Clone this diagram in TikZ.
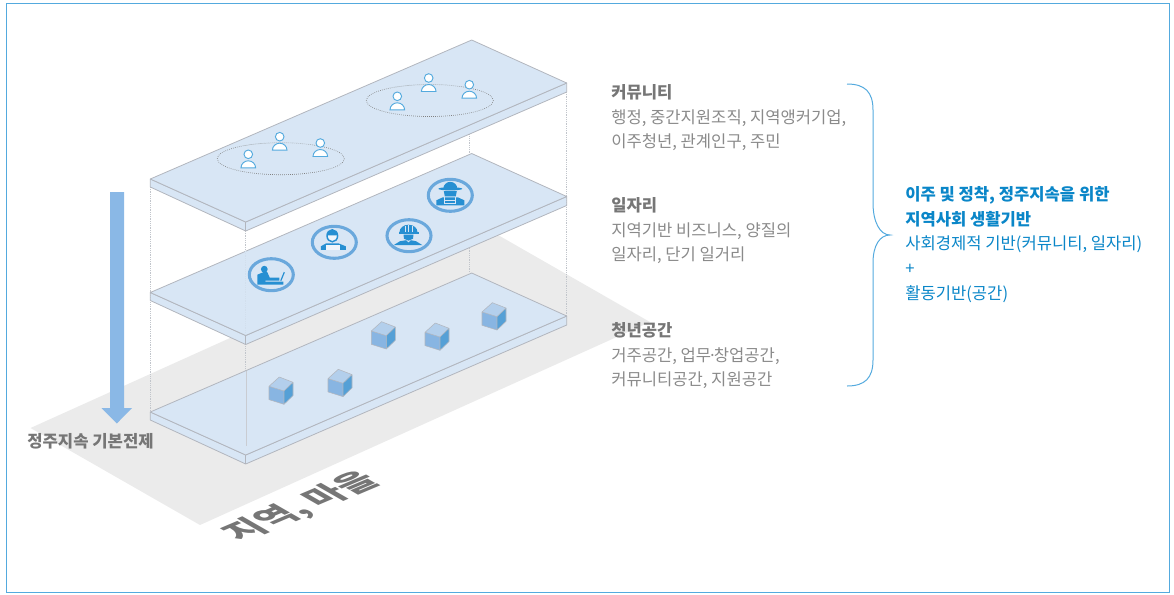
\documentclass[tikz,border=0pt]{standalone}
\usepackage{fontspec}
\setmainfont{Noto Sans CJK KR}
\definecolor{framecol}{RGB}{84, 170, 222}
\definecolor{groundcol}{RGB}{235, 235, 235}
\definecolor{platecol}{RGB}{216, 230, 245}
\definecolor{edgecol}{RGB}{178, 182, 190}
\definecolor{arrowcol}{RGB}{138, 184, 230}
\definecolor{ringcol}{RGB}{106, 168, 220}
\definecolor{iconcol}{RGB}{38, 143, 210}
\definecolor{headcol}{RGB}{118, 118, 118}
\definecolor{bodycol}{RGB}{138, 138, 138}
\definecolor{bluetext}{RGB}{10, 134, 200}
\definecolor{cubetop}{RGB}{179, 207, 236}
\definecolor{cubeleft}{RGB}{136, 181, 226}
\definecolor{cuberight}{RGB}{85, 160, 214}
\usetikzlibrary{positioning}
\tikzset{
  guide/.style={edgecol!80, densely dotted, line width=0.35pt},
  plate/.style={fill=platecol, draw=edgecol, line width=0.6pt, line join=round},
  blocktext/.style={anchor=north west, inner sep=0pt, align=left, text=bodycol,
    font=\fontsize{12.45}{18.6}\selectfont},
  person/.pic={
    \draw[framecol, fill=white, line width=0.7pt] (0,0) circle (4.3);
    \draw[framecol, fill=white, line width=0.7pt] (-7.3,13.5) arc[start angle=180, end angle=360, x radius=7.3, y radius=7] -- cycle;
  },
  cube/.pic={
    \fill[cubetop] (0,0) -- (-15,-4.7) -- (-4.7,-14) -- (9,-8.7) -- cycle;
    \fill[cubeleft] (0,0) -- (-15,-4.7) -- (-15,8.6) -- (0,13.3) -- cycle;
    \fill[cuberight] (0,0) -- (9,-8.7) -- (9,4.6) -- (0,13.3) -- cycle;
    \draw[edgecol, line width=0.4pt, line join=round] (-15,-4.7) -- (-4.7,-14) -- (9,-8.7) -- (9,4.6) -- (0,13.3) -- (-15,8.6) -- cycle (-15,-4.7) -- (0,0) -- (9,-8.7) (0,0) -- (0,13.3);
  },
  ring/.pic={
    \draw[ringcol, line width=2.3pt] (0,0) ellipse (22 and 16);
  },
  laptopicon/.pic={
    \fill[iconcol] (-7,-5.5) circle (3.4);
    \fill[iconcol] (-14,10) -- (-14,0) -- (-8,-2.5) -- (-4,-2.5) -- (-1.5,3) -- (8,3) -- (8,6) -- (-6,6) -- (-6,7) -- (12,7) -- (12,10) -- cycle;
    \draw[iconcol, line width=0.9pt] (9.5,6) -- (13,-2.5);
  },
  apronicon/.pic={
    \draw[iconcol, fill=platecol!40!white, line width=1.1pt] (-2,-6.5) ellipse (5.3 and 6);
    \fill[iconcol] (-7.3,-7) arc[start angle=180, end angle=360, x radius=5.3, y radius=5.5] -- cycle;
    \fill[iconcol] (-13.5,7.5) -- (-13.5,4) -- (-8,1) -- (4,1) -- (11.5,4) -- (11.5,7.5) -- cycle;
    \fill[platecol!40!white] (-8,2.5) rectangle (6,7.5);
  },
  helmeticon/.pic={
    \fill[iconcol] (-9.5,-3.5) arc[start angle=180, end angle=360, x radius=9, y radius=7.5] -- cycle;
    \fill[iconcol] (-10.5,-3.5) rectangle (9.5,-2.2);
    \draw[platecol, line width=0.4pt] (-4,-9.5) -- (-4,-4) (-0.5,-10.5) -- (-0.5,-4) (3,-9.5) -- (3,-4);
    \fill[iconcol] (-5.5,-1.2) -- (4.5,-1.2) -- (4,3) -- (-0.5,5) -- (-5,3) -- cycle;
    \fill[iconcol] (-15.5,9.5) -- (-9,5.5) -- (-3,4.5) -- (-0.5,7) -- (2,4.5) -- (7,5.5) -- (13.5,9.5) -- cycle;
  },
  hardhaticon/.pic={
    \fill[iconcol] (-7,-6.5) arc[start angle=180, end angle=360, x radius=7, y radius=7] -- cycle;
    \fill[iconcol] (0,-6.5) ellipse (12 and 1.6);
    \fill[iconcol] (-6.5,-4.2) -- (6.5,-4.2) -- (5.5,1) -- (-5.5,1) -- cycle;
    \fill[iconcol] (-14,10) -- (-14,5) -- (-7.5,2) -- (7.5,2) -- (14,5) -- (14,10) -- cycle;
    \draw[platecol, line width=0.7pt] (-5.5,2) -- (-5.5,8) -- (5.5,8) -- (5.5,2) (-5.5,5) -- (5.5,5);
  }
}
\begin{document}
\begin{tikzpicture}[x=0.75pt, y=-0.75pt]
  \useasboundingbox (0,0) rectangle (1174,594);
  \draw[framecol, line width=0.75pt] (6.3,3) rectangle (1169,592.7);

  % Ground
  \fill[groundcol] (30.5,428) -- (200,525) -- (650,322) -- (480.5,225) -- cycle;

  % Dotted uprights
  \draw[guide] (150.3,187) -- (150.3,412);
  \draw[guide] (245.7,231) -- (245.7,456);
  \draw[guide] (469,120) -- (469,273);
  \draw[guide] (566.7,92) -- (566.7,317);

  % Plates, bottom first
  \foreach \dy in {233,113.5,0} {
    \begin{scope}[yshift=-0.75*\dy]
      \draw[plate] (150.3,179) -- (150.3,187) -- (245.7,231) -- (566.7,92) -- (566.7,83) -- (245.7,222) -- cycle;
      \draw[plate] (150.3,179) -- (471.7,40) -- (566.7,83) -- (245.7,222) -- cycle;
      \draw[edgecol, line width=0.5pt] (245.7,222) -- (245.7,231);
    \end{scope}
  }
  \draw[edgecol!70, line width=0.3pt] (245.7,371) -- (245.7,446);
  \draw[platecol!85!edgecol, densely dotted, line width=0.35pt] (245.7,251) -- (245.7,335);

  % Spaces
  \foreach \cx/\cy in {284/391, 343/383.3, 386.3/335.7, 440/337, 497/316.7}
    \pic at (\cx,\cy) {cube};

  % Jobs
  \foreach \cx/\cy in {271.3/274.7, 334.3/242.3, 409/235.7, 450.3/195.3}
    \pic at (\cx,\cy) {ring};
  \pic at (271.3,274.7) {laptopicon};
  \pic at (334.3,242.3) {apronicon};
  \pic at (409,235.7) {helmeticon};
  \pic at (450.3,195.3) {hardhaticon};

  % Community
  \draw[gray, densely dotted, line width=0.5pt] (280.8,158.7) ellipse (63.5 and 16);
  \draw[gray, densely dotted, line width=0.5pt] (429.8,100.5) ellipse (63.5 and 16);
  \foreach \cx/\cy in {248.3/154.3, 279.7/136.7, 320.3/143, 397.3/96.3, 428.7/78, 469.3/84.7}
    \pic at (\cx,\cy) {person};

  % Big arrow
  \fill[arrowcol] (110,192) -- (124,192) -- (124,408) -- (132,408) -- (116.8,423.5) -- (101.5,408) -- (110,408) -- cycle;
  \node[font=\fontsize{12.5}{15}\selectfont\bfseries, text=headcol, inner sep=0pt] (premise) at (90.5,441) {정주지속 기본전제};

  % Ground label
  \node[cm={0.92,0.39,-0.82,0.47,(0,0)}, transform shape, font=\fontsize{27}{30}\selectfont\bfseries, text=headcol, inner sep=0pt] (village) at (302,507) {지역, 마을};

  % Layer texts
  \node[blocktext] (community) at (611,84) {{\bfseries\color{headcol}커뮤니티}\\행정, 중간지원조직, 지역앵커기업,\\이주청년, 관계인구, 주민};
  \node[blocktext] (jobs) at (611,197) {{\bfseries\color{headcol}일자리}\\지역기반 비즈니스, 양질의\\일자리, 단기 일거리};
  \node[blocktext] (spaces) at (611,322) {{\bfseries\color{headcol}청년공간}\\거주공간, 업무\kern-0.2em·\kern-0.2em창업공간,\\커뮤니티공간, 지원공간};

  % Brace
  \draw[framecol, line width=0.75pt] (847,84) .. controls (865,84) and (873,92) .. (873,110) -- (873,203) .. controls (873,222) and (880,235) .. (890,235) .. controls (880,235) and (873,245) .. (873,263) -- (873,360) .. controls (873,378) and (865,386) .. (847,386);

  % Summary
  \node[blocktext, text=bluetext] (summary) at (905,186) {{\bfseries 이주 및 정착, 정주지속을 위한}\\{\bfseries 지역사회 생활기반}\\사회경제적 기반(커뮤니티, 일자리)\\+\\활동기반(공간)};
\end{tikzpicture}
\end{document}
